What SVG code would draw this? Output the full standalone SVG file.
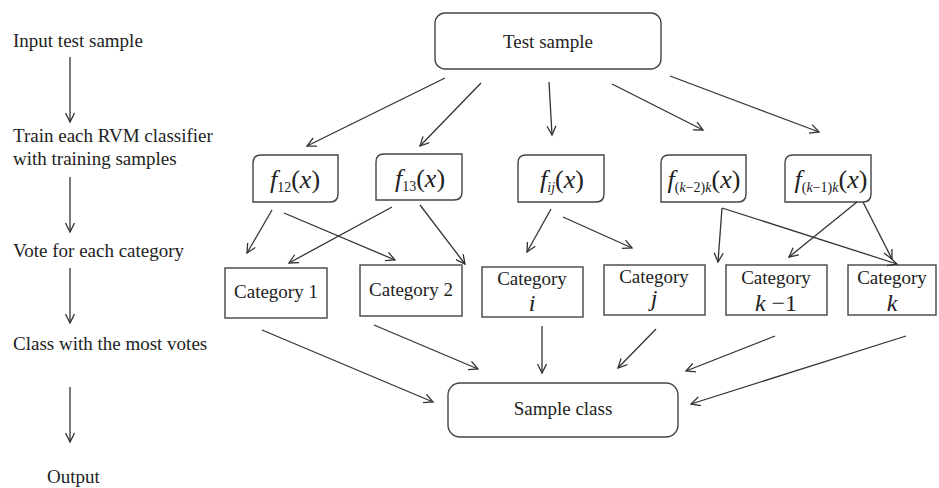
<svg xmlns="http://www.w3.org/2000/svg" width="939" height="488" viewBox="0 0 939 488">
<style>
text{font-family:"Liberation Serif","Times New Roman",serif;fill:#222;}
.t{font-size:19px;}
.m{font-size:26px;}
.v{font-size:24px;}
.s{font-size:14px;}
.i{font-style:italic;}
.box{fill:#fff;stroke:#444;stroke-width:1.4;}
.c line{stroke:#333;stroke-width:1.3;marker-end:url(#a);}
</style>
<defs>
<marker id="a" markerUnits="userSpaceOnUse" markerWidth="12" markerHeight="12" refX="10" refY="5" orient="auto">
<path d="M1,0.5 L10,5 L1,9.5" fill="none" stroke="#333" stroke-width="1.3"/>
</marker>
</defs>
<rect width="939" height="488" fill="#fff"/>

<g id="steps">
<text class="t" x="13" y="47">Input test sample</text>
<text class="t" x="13" y="142">Train each RVM classifier</text>
<text class="t" x="13" y="165">with training samples</text>
<text class="t" x="13" y="257">Vote for each category</text>
<text class="t" x="13" y="350">Class with the most votes</text>
<text class="t" x="47" y="483">Output</text>
</g>

<g id="test-sample">
<rect class="box" x="435" y="13" width="226" height="56" rx="10"/>
<text class="t" x="548" y="48" text-anchor="middle">Test sample</text>
</g>

<g id="f12">
<path class="box" d="M261,155 H338 V194 Q338,202 330,202 H253 V163 Q253,155 261,155 Z"/>
<text class="m" x="295" y="188" text-anchor="middle"><tspan class="i">f</tspan><tspan class="s" dy="4">12</tspan><tspan dy="-4">(</tspan><tspan class="i">x</tspan>)</text>
</g>
<g id="f13">
<path class="box" d="M384,154 H462 V192 Q462,200 454,200 H376 V162 Q376,154 384,154 Z"/>
<text class="m" x="420" y="187" text-anchor="middle"><tspan class="i">f</tspan><tspan class="s" dy="4">13</tspan><tspan dy="-4">(</tspan><tspan class="i">x</tspan>)</text>
</g>
<g id="fij">
<path class="box" d="M526,155 H604 V194 Q604,202 596,202 H518 V163 Q518,155 526,155 Z"/>
<text class="m" x="562" y="188" text-anchor="middle"><tspan class="i">f</tspan><tspan class="s i" dy="4">ij</tspan><tspan dy="-4">(</tspan><tspan class="i">x</tspan>)</text>
</g>
<g id="fk2k">
<path class="box" d="M669,155 H746 V194 Q746,202 738,202 H661 V163 Q661,155 669,155 Z"/>
<text class="m" x="704" y="188" text-anchor="middle"><tspan class="i">f</tspan><tspan class="s" dy="4">(<tspan class="i">k</tspan>−2)<tspan class="i">k</tspan></tspan><tspan dy="-4">(</tspan><tspan class="i">x</tspan>)</text>
</g>
<g id="fk1k">
<path class="box" d="M793,155 H871 V194 Q871,202 863,202 H785 V163 Q785,155 793,155 Z"/>
<text class="m" x="831" y="188" text-anchor="middle"><tspan class="i">f</tspan><tspan class="s" dy="4">(<tspan class="i">k</tspan>−1)<tspan class="i">k</tspan></tspan><tspan dy="-4">(</tspan><tspan class="i">x</tspan>)</text>
</g>

<g id="cat1">
<rect class="box" x="225" y="268" width="102" height="50"/>
<text class="t" x="276" y="298" text-anchor="middle">Category 1</text>
</g>
<g id="cat2">
<rect class="box" x="360" y="265" width="102" height="51"/>
<text class="t" x="411" y="296" text-anchor="middle">Category 2</text>
</g>
<g id="cati">
<rect class="box" x="482" y="267" width="101" height="50"/>
<text class="t" x="532" y="285" text-anchor="middle">Category</text>
<text class="v i" x="532" y="311" text-anchor="middle">i</text>
</g>
<g id="catj">
<rect class="box" x="604" y="265" width="101" height="50"/>
<text class="t" x="654" y="283" text-anchor="middle">Category</text>
<text class="v i" x="654" y="306" text-anchor="middle">j</text>
</g>
<g id="catk1">
<rect class="box" x="726" y="265" width="101" height="50"/>
<text class="t" x="776" y="284" text-anchor="middle">Category</text>
<text class="v" x="776" y="311" text-anchor="middle"><tspan class="i">k</tspan> −1</text>
</g>
<g id="catk">
<rect class="box" x="848" y="265" width="88" height="50"/>
<text class="t" x="892" y="284" text-anchor="middle">Category</text>
<text class="v i" x="892" y="311" text-anchor="middle">k</text>
</g>

<g id="sample-class">
<rect class="box" x="448" y="383" width="230" height="54" rx="12"/>
<text class="t" x="563" y="415" text-anchor="middle">Sample class</text>
</g>

<g id="connectors" class="c">
<line x1="70" y1="57" x2="70" y2="122"/>
<line x1="70" y1="177" x2="70" y2="232"/>
<line x1="70" y1="268" x2="70" y2="323"/>
<line x1="70" y1="387" x2="70" y2="442"/>

<line x1="445" y1="78" x2="307" y2="146"/>
<line x1="481" y1="83" x2="420" y2="146"/>
<line x1="549" y1="82" x2="552" y2="135"/>
<line x1="612" y1="84" x2="703" y2="130"/>
<line x1="670" y1="76" x2="819" y2="132"/>

<line x1="272" y1="210" x2="247" y2="253"/>
<line x1="284" y1="213" x2="395" y2="260"/>
<line x1="392" y1="207" x2="289" y2="263"/>
<line x1="420" y1="205" x2="465" y2="264"/>
<line x1="551" y1="209" x2="527" y2="252"/>
<line x1="563" y1="217" x2="632" y2="248"/>
<line x1="722" y1="208" x2="718" y2="262"/>
<line x1="722" y1="208" x2="897" y2="264"/>
<line x1="857" y1="202" x2="789" y2="257"/>
<line x1="863" y1="202" x2="892" y2="259"/>

<line x1="262" y1="330" x2="433" y2="402"/>
<line x1="374" y1="325" x2="478" y2="369"/>
<line x1="542" y1="326" x2="542" y2="373"/>
<line x1="656" y1="329" x2="618" y2="368"/>
<line x1="775" y1="336" x2="686" y2="371"/>
<line x1="906" y1="336" x2="691" y2="404"/>
</g>
</svg>
